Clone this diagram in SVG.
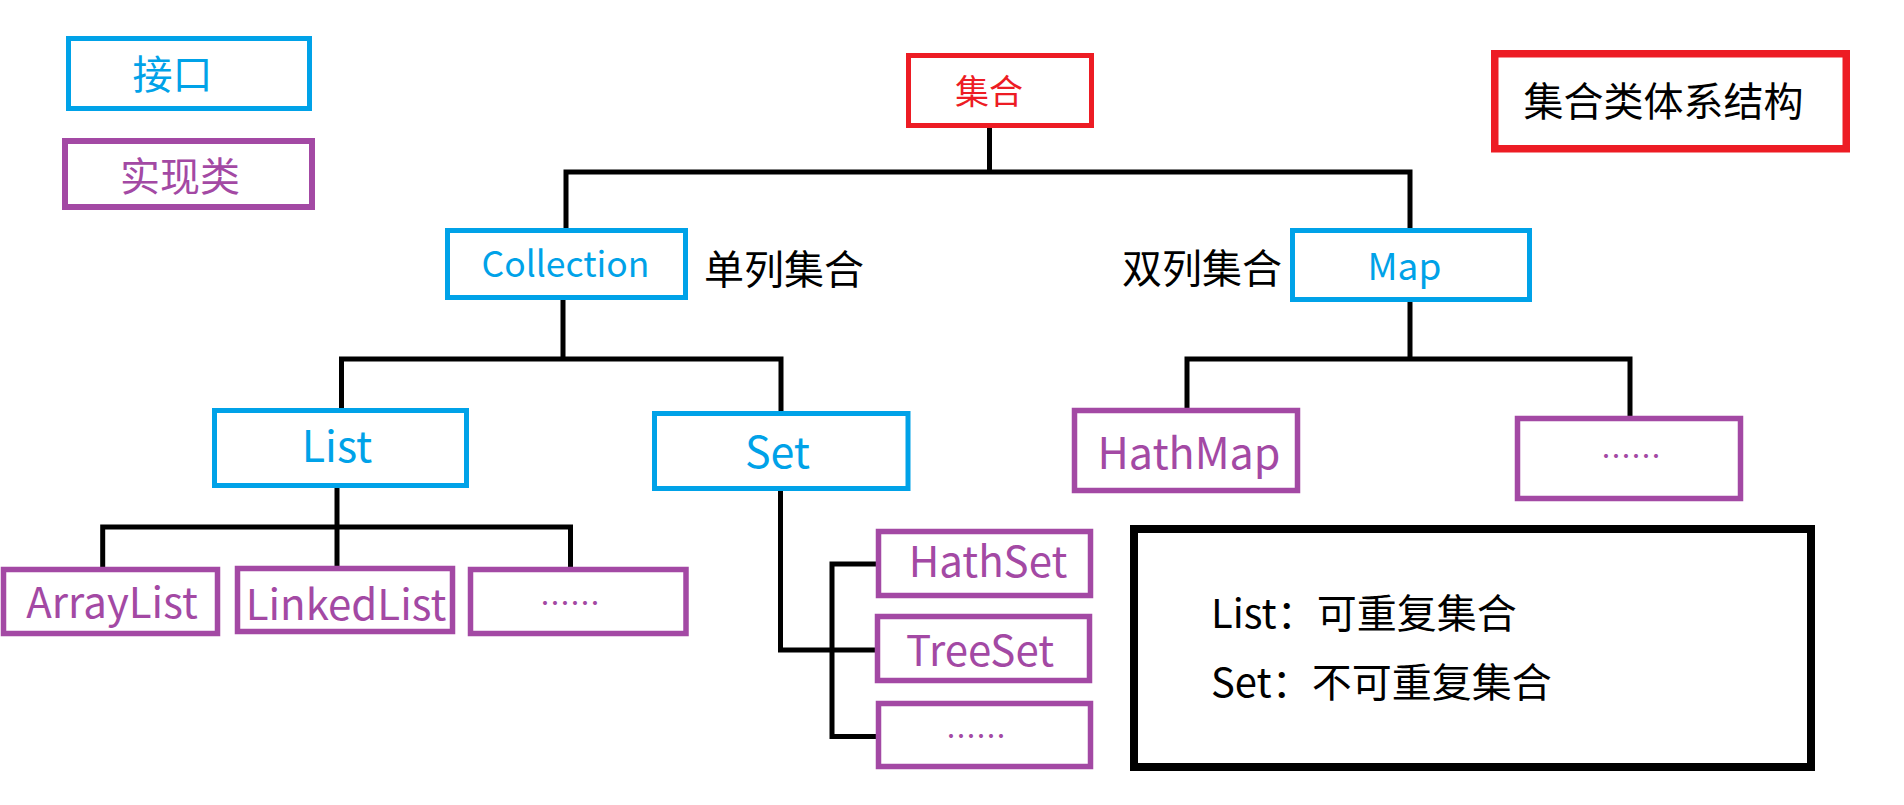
<svg xmlns="http://www.w3.org/2000/svg" width="1904" height="805" viewBox="0 0 1904 805">
<style>
  .bg { fill: #ffffff; }
  .ifc { fill: none; stroke: #00A2E8; stroke-width: 5; }
  .impl { fill: none; stroke: #A349A4; stroke-width: 5.5; }
  .red { fill: none; stroke: #ED1C24; stroke-width: 5; }
  .blk { fill: none; stroke: #000000; stroke-width: 8; }
  .conn { fill: none; stroke: #000000; stroke-width: 5; stroke-linecap: square; }
  text { font-family: "Noto Sans CJK SC", "Noto Sans", sans-serif; }
  .tb { fill: #00A2E8; text-anchor: middle; }
  .tp { fill: #A349A4; text-anchor: middle; }
  .tr { fill: #ED1C24; text-anchor: middle; }
  .tk { fill: #000000; }
  .dots { font-size: 30px; }
</style>
<rect class="bg" x="0" y="0" width="1904" height="805"/>

<g id="connectors">
  <path class="conn" d="M989.5,128 V172 M566,172 H1410 M566,172 V228 M1410,172 V228"/>
  <path class="conn" d="M563,300 V359 M341.5,359 H781 M341.5,359 V408 M781,359 V412"/>
  <path class="conn" d="M337,488 V565 M102.7,527 H570.5 M102.7,527 V567 M570.5,527 V567"/>
  <path class="conn" d="M780.5,490 V650 H875 M832,564 V736.5 M832,564 H876 M832,736.5 H876"/>
  <path class="conn" d="M1410,302 V359 M1187,359 H1630 M1187,359 V408 M1630,359 V416"/>
</g>

<g id="legend-interface">
  <rect class="ifc" x="68.5" y="38.5" width="241" height="70"/>
  <text class="tb" x="172.5" y="89" font-size="40">接口</text>
</g>
<g id="legend-impl">
  <rect class="impl" x="65" y="141" width="247" height="66" style="stroke-width:6"/>
  <text class="tp" x="180" y="191" font-size="40">实现类</text>
</g>

<g id="node-jihe">
  <rect class="red" x="908.5" y="55.5" width="183" height="70"/>
  <text class="tr" x="989" y="104" font-size="34">集合</text>
</g>

<g id="title">
  <rect class="red" x="1494.75" y="53.75" width="351.5" height="95" style="stroke-width:7.5"/>
  <text class="tk" x="1663.5" y="116" font-size="40" text-anchor="middle">集合类体系结构</text>
</g>

<g id="node-collection">
  <rect class="ifc" x="447.5" y="230.5" width="238" height="67"/>
  <text class="tb" x="565.5" y="277" font-size="35.5">Collection</text>
</g>
<g id="label-single">
  <text class="tk" x="704" y="284" font-size="40">单列集合</text>
</g>
<g id="label-double">
  <text class="tk" x="1122" y="283" font-size="40">双列集合</text>
</g>
<g id="node-map">
  <rect class="ifc" x="1292.5" y="230.5" width="237" height="69"/>
  <text class="tb" x="1404.5" y="280" font-size="37">Map</text>
</g>

<g id="node-list">
  <rect class="ifc" x="214.5" y="410.5" width="252" height="75"/>
  <text class="tb" x="337" y="462" font-size="43">List</text>
</g>
<g id="node-set">
  <rect class="ifc" x="654.5" y="413.5" width="253.5" height="75"/>
  <text class="tb" x="777.5" y="468" font-size="43">Set</text>
</g>

<g id="node-arraylist">
  <rect class="impl" x="3.5" y="569.5" width="214" height="64"/>
  <text class="tp" x="112" y="618" font-size="42">ArrayList</text>
</g>
<g id="node-linkedlist">
  <rect class="impl" x="237.5" y="568.5" width="215" height="63"/>
  <text class="tp" x="346" y="620" font-size="42">LinkedList</text>
</g>
<g id="node-list-more">
  <rect class="impl" x="470.5" y="569.5" width="215.5" height="64"/>
  <text class="tp dots" x="570" y="614">……</text>
</g>

<g id="node-hathset">
  <rect class="impl" x="878.5" y="531.5" width="212" height="64"/>
  <text class="tp" x="988" y="577" font-size="42">HathSet</text>
</g>
<g id="node-treeset">
  <rect class="impl" x="877.5" y="616.5" width="212" height="64"/>
  <text class="tp" x="980" y="666" font-size="42">TreeSet</text>
</g>
<g id="node-set-more">
  <rect class="impl" x="878.5" y="703.5" width="212" height="63"/>
  <text class="tp dots" x="976" y="747">……</text>
</g>

<g id="node-hathmap">
  <rect class="impl" x="1074.5" y="410.5" width="223" height="80"/>
  <text class="tp" x="1189" y="469" font-size="43">HathMap</text>
</g>
<g id="node-map-more">
  <rect class="impl" x="1517.5" y="418.5" width="223" height="80"/>
  <text class="tp dots" x="1631" y="467">……</text>
</g>

<g id="note">
  <rect class="blk" x="1134" y="529" width="677" height="238"/>
  <text class="tk" x="1211" y="628" font-size="40">List：可重复集合</text>
  <text class="tk" x="1211" y="697" font-size="40">Set：不可重复集合</text>
</g>
</svg>
